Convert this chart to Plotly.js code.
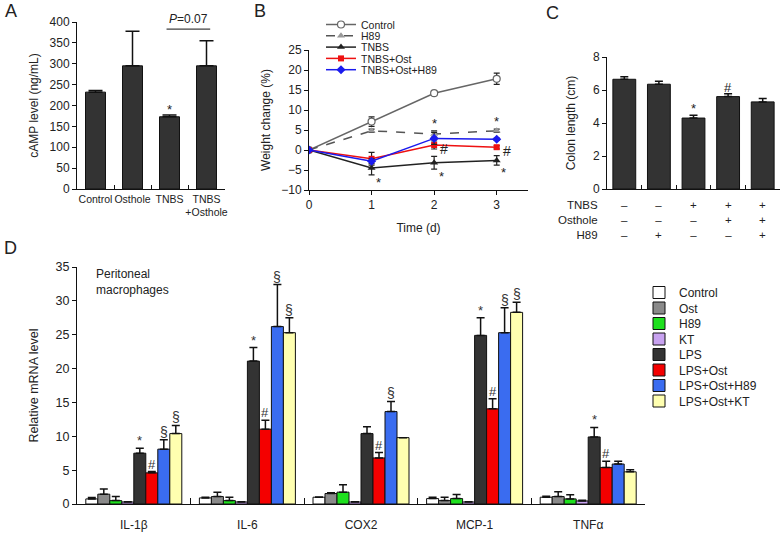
<!DOCTYPE html>
<html><head><meta charset="utf-8">
<script src="https://cdn.plot.ly/plotly-3.0.1.min.js"></script>
<style>html,body{margin:0;padding:0;background:#fff}#chart{width:784px;height:533px}</style>
</head><body><div id="chart"></div>
<script>
// ---------- Panel A data ----------
const aCategories = ['Control', 'Osthole', 'TNBS', 'TNBS<br>+Osthole'];
const aValues = [232, 295, 173, 295];
const aErrors = [4, 83, 4, 60];
const aMarks = ['', '', '*', ''];
const aPText = '<i>P</i>=0.07';
const aPLevel = 383;

// ---------- Panel B data ----------
const bTime = [0, 1, 2, 3];
const bNames = ['Control', 'H89', 'TNBS', 'TNBS+Ost', 'TNBS+Ost+H89'];
const bControl = [0, 7.1, 14.2, 17.8];
const bControlErr = [0, 1.2, 0.5, 1.4];
const bH89 = [0, 4.8, 4.0, 4.8];
const bH89Err = [0, 0.4, 0.8, 0.4];
const bTNBS = [0, -4.5, -3.2, -2.6];
const bTNBSErr = [0, 1.7, 1.6, 1.2];
const bOst = [0, -2.2, 1.25, 0.7];
const bOstErr = [0, 1.6, 1.0, 0.4];
const bOstH89 = [0, -2.8, 2.9, 2.7];
const bOstH89Err = [0, 0.6, 1.5, 0.3];
const bH89Marks = ['', '', '*', '*'];
const bTNBSMarks = ['', '*', '*', '*'];
const bOstMarks = ['', '', '#', '#'];

// ---------- Panel C data ----------
const cGroups = ['g1', 'g2', 'g3', 'g4', 'g5'];
const cValues = [6.65, 6.35, 4.3, 5.6, 5.28];
const cErrors = [0.15, 0.18, 0.17, 0.18, 0.2];
const cMarks = ['', '', '*', '#', ''];
const cRowLabels = ['TNBS', 'Osthole', 'H89'];
const cTNBS = ['–', '–', '+', '+', '+'];
const cOsthole = ['–', '–', '–', '+', '+'];
const cH89 = ['–', '+', '–', '–', '+'];

// ---------- Panel D data ----------
const dGenes = ['IL-1β', 'IL-6', 'COX2', 'MCP-1', 'TNFα'];
const dSeries = ['Control', 'Ost', 'H89', 'KT', 'LPS', 'LPS+Ost', 'LPS+Ost+H89', 'LPS+Ost+KT'];
const dControl = [0.75, 0.9, 1.0, 0.8, 1.0];
const dControlErr = [0.2, 0.1, 0.05, 0.2, 0.15];
const dOst = [1.45, 1.1, 1.55, 0.5, 1.1];
const dOstErr = [0.75, 0.65, 0.1, 0.5, 0.7];
const dH89 = [0.5, 0.5, 1.75, 0.8, 0.75];
const dH89Err = [0.6, 0.5, 1.1, 0.6, 0.6];
const dKT = [0.3, 0.3, 0.3, 0.3, 0.45];
const dKTErr = [0.05, 0.05, 0.05, 0.05, 0.1];
const dLPS = [7.5, 21.1, 10.4, 24.9, 9.9];
const dLPSErr = [0.75, 2.0, 1.0, 2.6, 1.4];
const dLPSOst = [4.6, 11.05, 6.8, 14.05, 5.4];
const dLPSOstErr = [0.2, 1.3, 0.8, 1.5, 0.9];
const dLPSOstH89 = [8.1, 26.2, 13.65, 25.3, 5.9];
const dLPSOstH89Err = [1.4, 6.2, 1.5, 3.7, 0.4];
const dLPSOstKT = [10.4, 25.3, 9.8, 28.3, 4.75];
const dLPSOstKTErr = [1.2, 2.2, 0, 1.5, 0.3];
const dLPSMarks = ['*', '*', '', '*', '*'];
const dLPSOstMarks = ['#', '#', '#', '#', '#'];
const dH89Marks = ['§', '§', '§', '§', ''];
const dKTMarks = ['§', '§', '', '§', ''];
const dNote = 'Peritoneal<br>macrophages';

// ---------- styling ----------
const FONT = 'Liberation Sans, Arial, sans-serif';
const TXT = '#222';
const W = 784, H = 533;
const px = v => v / W;
const py = v => 1 - v / H;
const zeros = arr => arr.map(() => 0);
const upErr = (arr, w) => ({type: 'data', array: arr, arrayminus: zeros(arr), symmetric: false, color: '#111', thickness: 1.5, width: w});

const traces = [];

// Panel A
traces.push({
  type: 'bar', x: aCategories, y: aValues, xaxis: 'x', yaxis: 'y', width: 0.54,
  marker: {color: '#333333', line: {color: '#111', width: 1}},
  error_y: upErr(aErrors, 7), showlegend: false, hoverinfo: 'skip'
});

// Panel B
const bData = [bControl, bH89, bTNBS, bOst, bOstH89];
const bErr = [bControlErr, bH89Err, bTNBSErr, bOstErr, bOstH89Err];
const bLine = [
  {color: '#666', width: 1.5},
  {color: '#555', width: 1.5, dash: 'dash'},
  {color: '#222', width: 1.5},
  {color: '#ee1111', width: 1.5},
  {color: '#1a1aee', width: 1.5}
];
const bMarker = [
  {symbol: 'circle', size: 7, color: '#fff', line: {color: '#666', width: 1.2}},
  {symbol: 'triangle-up', size: 7, color: '#999', line: {color: '#999', width: 0}},
  {symbol: 'triangle-up', size: 7, color: '#222', line: {width: 0}},
  {symbol: 'square', size: 6, color: '#ee1111', line: {width: 0}},
  {symbol: 'diamond', size: 7, color: '#1a1aee', line: {width: 0}}
];
bNames.forEach((n, i) => {
  traces.push({
    type: 'scatter', mode: 'lines+markers', name: n, x: bTime, y: bData[i],
    xaxis: 'x2', yaxis: 'y2', line: bLine[i], marker: bMarker[i], legend: 'legend',
    error_y: {type: 'data', array: bErr[i], color: '#222', thickness: 1.2, width: 3},
    hoverinfo: 'skip'
  });
});

// Panel C
traces.push({
  type: 'bar', x: cGroups, y: cValues, xaxis: 'x3', yaxis: 'y3', width: 0.66,
  marker: {color: '#333333', line: {color: '#111', width: 1}},
  error_y: upErr(cErrors, 4), showlegend: false, hoverinfo: 'skip'
});

// Panel D
const dData = [dControl, dOst, dH89, dKT, dLPS, dLPSOst, dLPSOstH89, dLPSOstKT];
const dErr = [dControlErr, dOstErr, dH89Err, dKTErr, dLPSErr, dLPSOstErr, dLPSOstH89Err, dLPSOstKTErr];
const dColors = ['#ffffff', '#8a8a8a', '#1ee01e', '#c8a2f0', '#333333', '#f40000', '#3a6cf0', '#ffffb0'];
dSeries.forEach((n, i) => {
  traces.push({
    type: 'bar', name: n, x: dGenes, y: dData[i], xaxis: 'x4', yaxis: 'y4', legend: 'legend2',
    marker: {color: dColors[i], line: {color: '#111', width: 1}},
    error_y: upErr(dErr[i], 4), hoverinfo: 'skip'
  });
});

// ---------- annotations ----------
const ann = [];
const labelFont = {family: FONT, size: 18, color: TXT};
[['A', 11, 11], ['B', 260, 11], ['C', 552, 13], ['D', 10, 248]].forEach(([t, x, y]) => {
  ann.push({text: t, xref: 'paper', yref: 'paper', x: px(x), y: py(y), xanchor: 'center', yanchor: 'middle', showarrow: false, font: labelFont});
});

// A marks
aMarks.forEach((m, i) => {
  if (m) ann.push({text: m, xref: 'x', yref: 'y', x: i, y: aValues[i] + aErrors[i], yanchor: 'bottom', yshift: -4, showarrow: false, font: {family: FONT, size: 13, color: TXT}});
});
ann.push({text: aPText, xref: 'x', yref: 'y', x: 2.5, y: aPLevel, yanchor: 'bottom', yshift: 1, showarrow: false, font: {family: FONT, size: 12, color: TXT}});

// B marks
const bmFont = {family: FONT, size: 13, color: TXT};
bH89Marks.forEach((m, i) => {
  if (m) ann.push({text: m, xref: 'x2', yref: 'y2', x: bTime[i], y: bH89[i] + bH89Err[i], yanchor: 'bottom', yshift: -2, showarrow: false, font: bmFont});
});
bTNBSMarks.forEach((m, i) => {
  if (m) ann.push({text: m, xref: 'x2', yref: 'y2', x: bTime[i], y: bTNBS[i] - bTNBSErr[i], yanchor: 'top', xshift: 7, yshift: 2, showarrow: false, font: bmFont});
});
bOstMarks.forEach((m, i) => {
  if (m) ann.push({text: m, xref: 'x2', yref: 'y2', x: bTime[i], y: bOst[i], xanchor: 'left', xshift: 4, yshift: -4, showarrow: false, font: {family: FONT, size: 14, color: TXT}});
});

// C marks
cMarks.forEach((m, i) => {
  if (m) ann.push({text: m, xref: 'x3', yref: 'y3', x: i, y: cValues[i] + cErrors[i], yanchor: 'bottom', yshift: -3, showarrow: false, font: {family: FONT, size: 13, color: TXT}});
});
// C sign table (one multi-line text per column)
const cRows = [cTNBS, cOsthole, cH89];
const cTableY = 220;
ann.push({text: cRowLabels.join('<br>'), xref: 'paper', yref: 'paper', x: px(600), y: py(cTableY), xanchor: 'right', yanchor: 'middle', align: 'right', showarrow: false, font: {family: FONT, size: 11.5, color: TXT}});
cGroups.forEach((g, i) => {
  ann.push({text: cRows.map(r => r[i]).join('<br>'), xref: 'x3', yref: 'paper', x: i, y: py(cTableY), xanchor: 'center', yanchor: 'middle', align: 'center', showarrow: false, font: {family: FONT, size: 11.5, color: TXT}});
});

// D marks
const dGroupWidth = 1 - 0.155;
const dBarW = dGroupWidth / dSeries.length;
const dBarX = (g, s) => g - dGroupWidth / 2 + dBarW * (s + 0.5);
const dMarkSets = [[4, dLPSMarks], [5, dLPSOstMarks], [6, dH89Marks], [7, dKTMarks]];
dMarkSets.forEach(([s, marks]) => {
  marks.forEach((m, g) => {
    if (m) ann.push({text: m, xref: 'x4', yref: 'y4', x: dBarX(g, s), y: dData[s][g] + dErr[s][g], yanchor: 'bottom', yshift: -2, showarrow: false, font: {family: FONT, size: m === '§' ? 14 : 13, color: '#333'}});
  });
});
ann.push({text: dNote, xref: 'paper', yref: 'paper', x: px(94), y: py(265), xanchor: 'left', yanchor: 'top', align: 'left', showarrow: false, font: {family: FONT, size: 12, color: TXT}});

// ---------- axes ----------
const axBase = {showline: true, linecolor: '#111', linewidth: 1, showgrid: false, zeroline: false, tickcolor: '#111', tickwidth: 1, tickfont: {family: FONT, size: 12, color: TXT}, fixedrange: true};
const ax = o => Object.assign({}, axBase, o);

const layout = {
  width: W, height: H, margin: {l: 0, r: 0, t: 0, b: 0},
  paper_bgcolor: '#fff', plot_bgcolor: 'rgba(0,0,0,0)',
  font: {family: FONT, size: 12, color: TXT},
  barmode: 'group', bargap: 0.155, bargroupgap: 0,
  showlegend: true,
  xaxis: ax({domain: [px(77), px(225)], anchor: 'y', type: 'category', ticks: 'inside', tickson: 'boundaries', ticklen: 4, tickangle: 0, tickfont: {family: FONT, size: 10.5, color: TXT}}),
  yaxis: ax({domain: [py(189), py(22)], anchor: 'x', range: [0, 400], dtick: 50, ticks: 'outside', ticklen: 4,
    title: {text: 'cAMP level (ng/mL)', font: {family: FONT, size: 12, color: TXT}, standoff: 8}}),
  xaxis2: ax({domain: [px(309), px(528)], anchor: 'y2', range: [0, 3.5], dtick: 1, ticks: 'outside', ticklen: 4,
    title: {text: 'Time (d)', font: {family: FONT, size: 12, color: TXT}, standoff: 12}}),
  yaxis2: ax({domain: [py(190), py(50)], anchor: 'x2', range: [-10, 25], dtick: 5, ticks: 'outside', ticklen: 4,
    title: {text: 'Weight change (%)', font: {family: FONT, size: 12, color: TXT}, standoff: 8}}),
  xaxis3: ax({domain: [px(607), px(780)], anchor: 'y3', type: 'category', ticks: 'inside', tickson: 'boundaries', ticklen: 4, showticklabels: false}),
  yaxis3: ax({domain: [py(189), py(57)], anchor: 'x3', range: [0, 8], dtick: 2, ticks: 'outside', ticklen: 4,
    title: {text: 'Colon length (cm)', font: {family: FONT, size: 12, color: TXT}, standoff: 14}}),
  xaxis4: ax({domain: [px(77), px(645)], anchor: 'y4', type: 'category', ticks: 'inside', tickson: 'boundaries', ticklen: 6, ticklabelstandoff: 10, tickfont: {family: FONT, size: 12, color: TXT}}),
  yaxis4: ax({domain: [py(504), py(267)], anchor: 'x4', range: [0, 35], dtick: 5, ticks: 'outside', ticklen: 4, tickfont: {family: FONT, size: 12.5, color: TXT},
    title: {text: 'Relative mRNA level', font: {family: FONT, size: 12.5, color: TXT}, standoff: 14}}),
  legend: {x: px(321), y: py(10), xanchor: 'left', yanchor: 'top', bgcolor: 'rgba(0,0,0,0)', borderwidth: 0, font: {family: FONT, size: 10.5, color: TXT}, tracegroupgap: 0},
  legend2: {x: px(639), y: py(278), xanchor: 'left', yanchor: 'top', bgcolor: 'rgba(0,0,0,0)', borderwidth: 0, font: {family: FONT, size: 12, color: TXT}, tracegroupgap: 0},
  annotations: ann,
  shapes: [{type: 'line', xref: 'x', yref: 'y', x0: 1.92, x1: 3.1, y0: aPLevel, y1: aPLevel, line: {color: '#111', width: 1}}]
};

// tighten legend row spacing to match the reference figure
function tightenLegend(legendId, step) {
  const g = document.querySelector('g.' + legendId);
  if (!g) return;
  const items = g.querySelectorAll('g.traces');
  let y0 = null;
  items.forEach((it, i) => {
    const m = /translate\(\s*([-\d.e]+)[ ,]+([-\d.e]+)\s*\)/.exec(it.getAttribute('transform') || '');
    if (!m) return;
    if (y0 === null) y0 = parseFloat(m[2]);
    it.setAttribute('transform', 'translate(' + m[1] + ',' + (y0 + i * step) + ')');
  });
}

Plotly.newPlot('chart', traces, layout, {staticPlot: true, displayModeBar: false}).then(() => {
  tightenLegend('legend', 11.3);
  tightenLegend('legend2', 15.5);
});
</script>
</body></html>
